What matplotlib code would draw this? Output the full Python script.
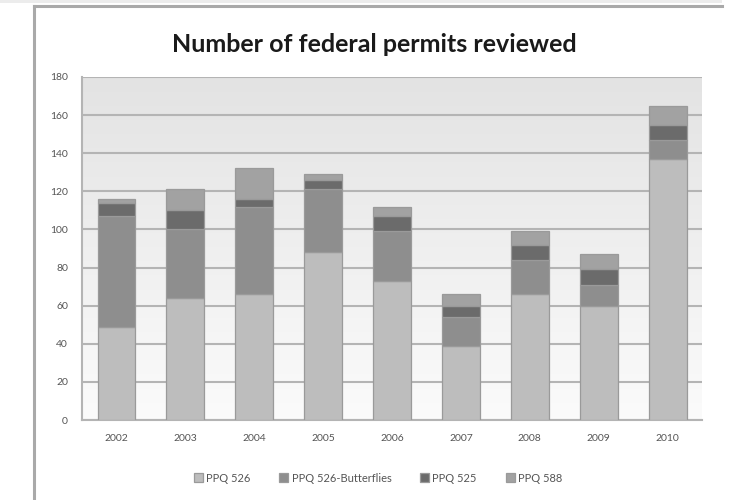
import matplotlib.pyplot as plt
import numpy as np
from matplotlib.lines import Line2D
from matplotlib.patches import Rectangle

plt.rcParams['font.family'] = ['Lato', 'DejaVu Sans']

years = ['2002', '2003', '2004', '2005', '2006', '2007', '2008', '2009', '2010']
ppq526 = [49, 64, 66, 88, 73, 39, 66, 60, 137]
ppq526_butterflies = [58, 36, 46, 33, 26, 15, 18, 11, 10]
ppq525 = [7, 10, 4, 5, 8, 6, 8, 8, 8]
ppq588 = [2, 11, 16, 3, 5, 6, 7, 8, 10]

series = [
    ('PPQ 526', ppq526, '#bdbdbd'),
    ('PPQ 526-Butterflies', ppq526_butterflies, '#8e8e8e'),
    ('PPQ 525', ppq525, '#6b6b6b'),
    ('PPQ 588', ppq588, '#a2a2a2'),
]

fig = plt.figure(figsize=(7.36, 5.0), dpi=100)
W, H = 736, 500

# outer chart frame
fig.patches.append(Rectangle((0, 1 - 3 / H), 722 / W, 3 / H, transform=fig.transFigure,
                             facecolor='#ececec', edgecolor='none'))
fig.lines.append(Line2D([34 / W, 722 / W], [1 - 6 / H, 1 - 6 / H], transform=fig.transFigure,
                        color='#a9a9a9', lw=2.2))
fig.lines.append(Line2D([34 / W, 34 / W], [0, 1 - 6 / H], transform=fig.transFigure,
                        color='#a9a9a9', lw=2.2))

ax = fig.add_axes([82 / W, 1 - 420 / H, 620 / W, 343 / H])

# vertical gradient behind the bars: light grey at the top, near white at the bottom
t = np.linspace(0, 1, 256).reshape(-1, 1)
top_c, bot_c = np.array([0.89, 0.89, 0.89]), np.array([0.985, 0.985, 0.985])
grad = bot_c + (top_c - bot_c) * t[..., None]
ax.imshow(grad, aspect='auto', origin='lower', extent=[0, 1, 0, 1],
          transform=ax.transAxes, zorder=0)

x = np.arange(len(years))
bottom = np.zeros(len(years))
for name, vals, col in series:
    ax.bar(x, vals, width=0.55, bottom=bottom, color=col, edgecolor='#9a9a9a',
           linewidth=0.9, label=name, zorder=3)
    bottom += np.array(vals)

ax.set_xlim(-0.5, len(years) - 0.5)
ax.set_ylim(0, 180)
ax.set_yticks(range(0, 181, 20))
ax.set_xticks(x)
ax.set_xticklabels(years)
ax.yaxis.grid(True, color='#b4b4b4', linewidth=1.5, zorder=1)
ax.set_axisbelow(True)
ax.tick_params(length=0, labelsize=7.5, colors='#555555', pad=10)
for side in ['top', 'right']:
    ax.spines[side].set_visible(False)
for side in ['left', 'bottom']:
    ax.spines[side].set_color('#b4b4b4')
    ax.spines[side].set_linewidth(1.5)

fig.text(374 / W, 1 - 44 / H, 'Number of federal permits reviewed', ha='center', va='center',
         fontsize=18, fontweight='bold', color='#1a1a1a')

fig.legend(loc='center', bbox_to_anchor=(378 / W, 1 - 478 / H), ncol=4, frameon=False,
           fontsize=8, labelcolor='#555555', handlelength=0.8, handleheight=0.8,
           handletextpad=0.3, columnspacing=2.6)

fig.savefig('out.png', dpi=100, facecolor='white')
